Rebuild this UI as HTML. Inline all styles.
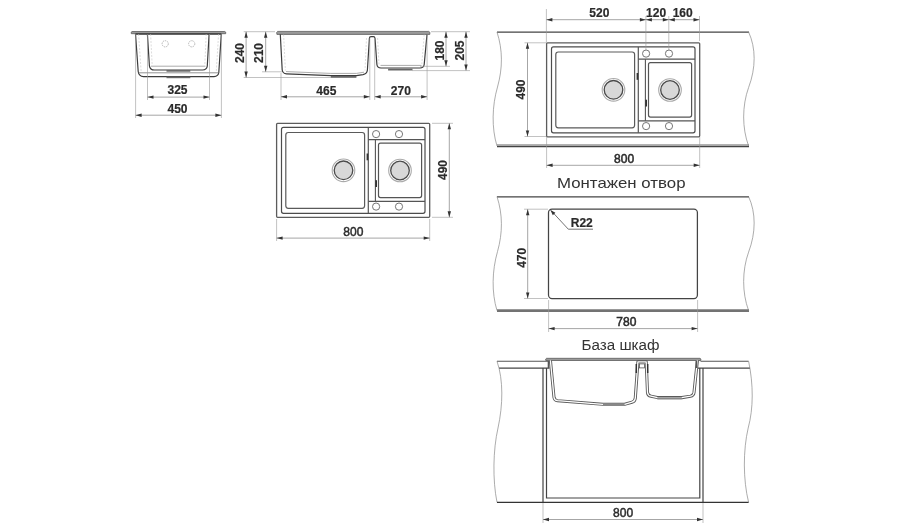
<!DOCTYPE html><html><head><meta charset="utf-8"><style>html,body{margin:0;padding:0;background:#fff;}svg{display:block;filter:grayscale(1);font-family:"Liberation Sans",sans-serif;}</style></head><body>
<svg width="904" height="529" viewBox="0 0 904 529">
<defs><g id="top">
<rect x="276.6" y="123.3" width="153.1" height="94" rx="1" stroke="#5c5c5c" stroke-width="1.3" fill="none"/>
<path d="M283.5,127.4 H423 Q425,127.4 425,129.4 V211.3 Q425,213.3 423,213.3 H283.5 Q281.5,213.3 281.5,211.3 V129.4 Q281.5,127.4 283.5,127.4 Z" stroke="#4c4c4c" stroke-width="1.2" fill="none"/>
<rect x="285.8" y="132.5" width="78.8" height="75.8" rx="2.5" stroke="#5a5a5a" stroke-width="1.2" fill="none"/>
<line x1="368.3" y1="127.4" x2="368.3" y2="213.3" stroke="#555" stroke-width="1.2"/>
<line x1="368.3" y1="139.7" x2="425" y2="139.7" stroke="#555" stroke-width="1.2"/>
<line x1="368.3" y1="201.3" x2="425" y2="201.3" stroke="#555" stroke-width="1.2"/>
<line x1="375.4" y1="139.7" x2="375.4" y2="201.3" stroke="#555" stroke-width="1.1"/>
<rect x="378.5" y="143.1" width="43.1" height="54.5" rx="2" stroke="#555" stroke-width="1.2" fill="none"/>
<circle cx="376.1" cy="134.1" r="3.6" stroke="#666" stroke-width="0.9" fill="none"/>
<circle cx="399" cy="134.1" r="3.6" stroke="#666" stroke-width="0.9" fill="none"/>
<circle cx="376.1" cy="206.6" r="3.6" stroke="#666" stroke-width="0.9" fill="none"/>
<circle cx="399" cy="206.6" r="3.6" stroke="#666" stroke-width="0.9" fill="none"/>
<circle cx="343.5" cy="170.3" r="11.3" stroke="#aaa" stroke-width="1.1" fill="none"/>
<circle cx="343.5" cy="170.3" r="9.3" stroke="#4a4a4a" stroke-width="1.3" fill="#d8d8d8"/>
<circle cx="400" cy="170.5" r="11.3" stroke="#aaa" stroke-width="1.1" fill="none"/>
<circle cx="400" cy="170.5" r="9.3" stroke="#4a4a4a" stroke-width="1.3" fill="#d8d8d8"/>
<rect x="366.6" y="153.5" width="1.6" height="6.8" fill="#333"/>
<rect x="375.3" y="180.2" width="1.7" height="6.8" fill="#333"/>
</g></defs>
<use href="#top"/>
<use href="#top" transform="translate(270,-80.5)"/>
<path d="M132,31.5 H224.8 Q226.2,31.7 225.7,33.7 H131.3 Q130.7,31.8 132,31.5 Z" fill="#9a9a9a" stroke="#555" stroke-width="0.75"/>
<path d="M135.5,34 H221.3" stroke="#3a3a3a" stroke-width="1.3"/>
<path d="M138.6,34 L141.2,72.5 M218.6,34 L216.2,72.5 M150.6,34 L152.2,65.5 M206.2,34 L204.8,65.5" stroke="#c4c4c4" stroke-width="0.6" stroke-dasharray="2,1.5" fill="none"/>
<path d="M135.5,34 L138.2,71.5 Q138.8,76.4 143.5,76.6 H214 Q218.3,76.4 218.8,72.5 L221.3,34" stroke="#3c3c3c" stroke-width="1.2" fill="none"/>
<path d="M138.6,72.8 H218.8" stroke="#777" stroke-width="0.8" fill="none"/>
<path d="M166.5,77.4 H190.3" stroke="#666" stroke-width="1.6"/>
<path d="M147.4,34 L149.4,65.8 Q150,69.9 154.5,70 H202.5 Q206.8,69.8 207.3,66 L209.1,34" stroke="#3c3c3c" stroke-width="1.2" fill="none"/>
<path d="M151,66.2 H205.5" stroke="#888" stroke-width="0.7" fill="none"/>
<path d="M166.5,70.9 H190.3" stroke="#666" stroke-width="1.6"/>
<circle cx="165.2" cy="43.8" r="3.1" stroke="#999" stroke-width="0.7" stroke-dasharray="1.5,0.8" fill="none"/>
<circle cx="191.7" cy="43.8" r="3.1" stroke="#999" stroke-width="0.7" stroke-dasharray="1.5,0.8" fill="none"/>
<line x1="135.6" y1="34" x2="135.6" y2="118" stroke="#999" stroke-width="0.6"/>
<line x1="147.5" y1="34" x2="147.5" y2="100" stroke="#999" stroke-width="0.6"/>
<line x1="209.5" y1="34" x2="209.5" y2="100" stroke="#999" stroke-width="0.6"/>
<line x1="221.4" y1="34" x2="221.4" y2="118" stroke="#999" stroke-width="0.6"/>
<line x1="147.5" y1="97.1" x2="209.5" y2="97.1" stroke="#888" stroke-width="0.75"/>
<polygon points="147.50,97.10 153.50,95.40 153.50,98.80" fill="#333"/>
<polygon points="209.50,97.10 203.50,95.40 203.50,98.80" fill="#333"/>
<line x1="135.6" y1="115.2" x2="221.4" y2="115.2" stroke="#888" stroke-width="0.75"/>
<polygon points="135.60,115.20 141.60,113.50 141.60,116.90" fill="#333"/>
<polygon points="221.40,115.20 215.40,113.50 215.40,116.90" fill="#333"/>
<text x="177.5" y="93.9" font-size="12" font-weight="bold" fill="#2a2a2a" text-anchor="middle" stroke="#2a2a2a" stroke-width="0.2">325</text>
<text x="177.5" y="112.7" font-size="12" font-weight="bold" fill="#2a2a2a" text-anchor="middle" stroke="#2a2a2a" stroke-width="0.2">450</text>
<path d="M277.6,31.4 H428.8 Q430.5,31.7 429.8,34.4 H276.9 Q276.1,31.9 277.6,31.4 Z" fill="#9a9a9a" stroke="#555" stroke-width="0.75"/>
<path d="M283.6,34.5 L285.4,70.5 M366.5,38 L365,70.5 M377.6,38 L379,64.5 M424.2,34.5 L421.8,64" stroke="#c4c4c4" stroke-width="0.6" stroke-dasharray="2,1.5" fill="none"/>
<path d="M280.3,34.4 L282.2,70 Q282.7,73.6 286.5,73.8 L330.8,75.6 H356.4 L363,74.6 Q367,73.8 367.4,70 L369.4,38.2 Q369.5,36.7 371,36.7 H373.4 Q374.9,36.7 375,38.2 L376.9,64.5 Q377.3,67.8 381,68 H420 Q423.7,67.8 424.2,64.5 L427,34.4" stroke="#3c3c3c" stroke-width="1.2" fill="none"/>
<path d="M286,71.6 L330.8,73.4 H356.4 L364,72.2 M380.5,65.4 H421.5" stroke="#888" stroke-width="0.7" fill="none"/>
<path d="M330.8,76.9 H356.4" stroke="#666" stroke-width="1.8"/>
<path d="M388.1,69.6 H412.5" stroke="#666" stroke-width="1.8"/>
<line x1="243.7" y1="31.7" x2="275" y2="31.7" stroke="#999" stroke-width="0.6"/>
<line x1="243.7" y1="77.5" x2="331" y2="77.5" stroke="#999" stroke-width="0.6"/>
<line x1="262" y1="71.8" x2="282" y2="71.8" stroke="#999" stroke-width="0.6"/>
<line x1="281" y1="73" x2="281" y2="100" stroke="#999" stroke-width="0.6"/>
<line x1="369.8" y1="38" x2="369.8" y2="100" stroke="#999" stroke-width="0.6"/>
<line x1="374.7" y1="38" x2="374.7" y2="100" stroke="#999" stroke-width="0.6"/>
<line x1="427.1" y1="34" x2="427.1" y2="100" stroke="#999" stroke-width="0.6"/>
<line x1="431" y1="31.7" x2="470" y2="31.7" stroke="#999" stroke-width="0.6"/>
<line x1="420" y1="66.3" x2="450" y2="66.3" stroke="#999" stroke-width="0.6"/>
<line x1="412" y1="70.6" x2="470" y2="70.6" stroke="#999" stroke-width="0.6"/>
<line x1="246.1" y1="31.7" x2="246.1" y2="77.5" stroke="#888" stroke-width="0.75"/>
<polygon points="246.10,31.70 244.40,37.70 247.80,37.70" fill="#333"/>
<polygon points="246.10,77.50 244.40,71.50 247.80,71.50" fill="#333"/>
<line x1="265.7" y1="31.7" x2="265.7" y2="71.8" stroke="#888" stroke-width="0.75"/>
<polygon points="265.70,31.70 264.00,37.70 267.40,37.70" fill="#333"/>
<polygon points="265.70,71.80 264.00,65.80 267.40,65.80" fill="#333"/>
<line x1="446" y1="31.7" x2="446" y2="66.3" stroke="#888" stroke-width="0.75"/>
<polygon points="446.00,31.70 444.30,37.70 447.70,37.70" fill="#333"/>
<polygon points="446.00,66.30 444.30,60.30 447.70,60.30" fill="#333"/>
<line x1="466" y1="31.7" x2="466" y2="70.6" stroke="#888" stroke-width="0.75"/>
<polygon points="466.00,31.70 464.30,37.70 467.70,37.70" fill="#333"/>
<polygon points="466.00,70.60 464.30,64.60 467.70,64.60" fill="#333"/>
<line x1="281" y1="96.8" x2="369.8" y2="96.8" stroke="#888" stroke-width="0.75"/>
<polygon points="281.00,96.80 287.00,95.10 287.00,98.50" fill="#333"/>
<polygon points="369.80,96.80 363.80,95.10 363.80,98.50" fill="#333"/>
<line x1="374.7" y1="96.8" x2="427.1" y2="96.8" stroke="#888" stroke-width="0.75"/>
<polygon points="374.70,96.80 380.70,95.10 380.70,98.50" fill="#333"/>
<polygon points="427.10,96.80 421.10,95.10 421.10,98.50" fill="#333"/>
<text x="0" y="0" transform="translate(243.7,53) rotate(-90)" font-size="12" font-weight="bold" fill="#2a2a2a" stroke="#2a2a2a" stroke-width="0.2" text-anchor="middle">240</text>
<text x="0" y="0" transform="translate(263,53) rotate(-90)" font-size="12" font-weight="bold" fill="#2a2a2a" stroke="#2a2a2a" stroke-width="0.2" text-anchor="middle">210</text>
<text x="0" y="0" transform="translate(443.5,50.5) rotate(-90)" font-size="12" font-weight="bold" fill="#2a2a2a" stroke="#2a2a2a" stroke-width="0.2" text-anchor="middle">180</text>
<text x="0" y="0" transform="translate(464.2,50.5) rotate(-90)" font-size="12" font-weight="bold" fill="#2a2a2a" stroke="#2a2a2a" stroke-width="0.2" text-anchor="middle">205</text>
<text x="326.3" y="94.7" font-size="12" font-weight="bold" fill="#2a2a2a" text-anchor="middle" stroke="#2a2a2a" stroke-width="0.2">465</text>
<text x="400.8" y="94.7" font-size="12" font-weight="bold" fill="#2a2a2a" text-anchor="middle" stroke="#2a2a2a" stroke-width="0.2">270</text>
<line x1="432" y1="123.3" x2="453" y2="123.3" stroke="#999" stroke-width="0.6"/>
<line x1="432" y1="217.3" x2="453" y2="217.3" stroke="#999" stroke-width="0.6"/>
<line x1="449.3" y1="123.3" x2="449.3" y2="217.3" stroke="#888" stroke-width="0.75"/>
<polygon points="449.30,123.30 447.60,129.30 451.00,129.30" fill="#333"/>
<polygon points="449.30,217.30 447.60,211.30 451.00,211.30" fill="#333"/>
<text x="0" y="0" transform="translate(447.2,170) rotate(-90)" font-size="12" font-weight="bold" fill="#2a2a2a" stroke="#2a2a2a" stroke-width="0.2" text-anchor="middle">490</text>
<line x1="276.6" y1="219" x2="276.6" y2="241" stroke="#999" stroke-width="0.6"/>
<line x1="429.7" y1="219" x2="429.7" y2="241" stroke="#999" stroke-width="0.6"/>
<line x1="276.6" y1="238.1" x2="429.7" y2="238.1" stroke="#888" stroke-width="0.75"/>
<polygon points="276.60,238.10 282.60,236.40 282.60,239.80" fill="#333"/>
<polygon points="429.70,238.10 423.70,236.40 423.70,239.80" fill="#333"/>
<text x="353.3" y="236.3" font-size="12" font-weight="normal" fill="#2a2a2a" text-anchor="middle" stroke="#2a2a2a" stroke-width="0.45">800</text>
<g transform="translate(0,0)">
<line x1="497" y1="32.2" x2="749" y2="32.2" stroke="#444" stroke-width="1.3"/>
<line x1="497" y1="144.9" x2="749" y2="144.9" stroke="#999" stroke-width="1.1"/>
<line x1="497" y1="146.4" x2="749" y2="146.4" stroke="#444" stroke-width="1.5"/>
<path d="M497,32 C502.8,50 502.8,68 497.5,87 C492,106 491.5,128 497,146" stroke="#888" stroke-width="0.7" fill="none"/>
<path d="M748.6,32 C756,48 756,68 748.6,87.5 C742,106 742,128 748.6,146" stroke="#888" stroke-width="0.7" fill="none"/>
</g>
<g transform="translate(0,164.6)">
<line x1="497" y1="32.2" x2="749" y2="32.2" stroke="#444" stroke-width="1.3"/>
<line x1="497" y1="144.9" x2="749" y2="144.9" stroke="#999" stroke-width="1.1"/>
<line x1="497" y1="146.4" x2="749" y2="146.4" stroke="#444" stroke-width="1.5"/>
<path d="M497,32 C502.8,50 502.8,68 497.5,87 C492,106 491.5,128 497,146" stroke="#888" stroke-width="0.7" fill="none"/>
<path d="M748.6,32 C756,48 756,68 748.6,87.5 C742,106 742,128 748.6,146" stroke="#888" stroke-width="0.7" fill="none"/>
</g>
<line x1="546.4" y1="9" x2="546.4" y2="42.8" stroke="#999" stroke-width="0.6"/>
<line x1="645.9" y1="16" x2="645.9" y2="50" stroke="#999" stroke-width="0.6"/>
<line x1="668.8" y1="16" x2="668.8" y2="50" stroke="#999" stroke-width="0.6"/>
<line x1="699.5" y1="16" x2="699.5" y2="41" stroke="#999" stroke-width="0.6"/>
<line x1="546.4" y1="19.7" x2="699.5" y2="19.7" stroke="#888" stroke-width="0.75"/>
<polygon points="546.40,19.70 552.40,18.00 552.40,21.40" fill="#333"/>
<polygon points="645.90,19.70 639.90,18.00 639.90,21.40" fill="#333"/>
<polygon points="645.90,19.70 651.90,18.00 651.90,21.40" fill="#333"/>
<polygon points="668.80,19.70 662.80,18.00 662.80,21.40" fill="#333"/>
<polygon points="668.80,19.70 674.80,18.00 674.80,21.40" fill="#333"/>
<polygon points="699.50,19.70 693.50,18.00 693.50,21.40" fill="#333"/>
<text x="599.3" y="16.8" font-size="12" font-weight="bold" fill="#2a2a2a" text-anchor="middle" stroke="#2a2a2a" stroke-width="0.2">520</text>
<text x="656.1" y="17" font-size="12" font-weight="bold" fill="#2a2a2a" text-anchor="middle" stroke="#2a2a2a" stroke-width="0.2">120</text>
<text x="682.7" y="17" font-size="12" font-weight="bold" fill="#2a2a2a" text-anchor="middle" stroke="#2a2a2a" stroke-width="0.2">160</text>
<line x1="524.5" y1="42.8" x2="546" y2="42.8" stroke="#999" stroke-width="0.6"/>
<line x1="524.5" y1="136.5" x2="546" y2="136.5" stroke="#999" stroke-width="0.6"/>
<line x1="527.5" y1="42.8" x2="527.5" y2="136.5" stroke="#888" stroke-width="0.75"/>
<polygon points="527.50,42.80 525.80,48.80 529.20,48.80" fill="#333"/>
<polygon points="527.50,136.50 525.80,130.50 529.20,130.50" fill="#333"/>
<text x="0" y="0" transform="translate(525.4,89.5) rotate(-90)" font-size="12" font-weight="bold" fill="#2a2a2a" stroke="#2a2a2a" stroke-width="0.2" text-anchor="middle">490</text>
<line x1="546.6" y1="137" x2="546.6" y2="168" stroke="#999" stroke-width="0.6"/>
<line x1="699.7" y1="137" x2="699.7" y2="168" stroke="#999" stroke-width="0.6"/>
<line x1="546.6" y1="165.3" x2="699.7" y2="165.3" stroke="#888" stroke-width="0.75"/>
<polygon points="546.60,165.30 552.60,163.60 552.60,167.00" fill="#333"/>
<polygon points="699.70,165.30 693.70,163.60 693.70,167.00" fill="#333"/>
<text x="624.1" y="162.9" font-size="12" font-weight="normal" fill="#2a2a2a" text-anchor="middle" stroke="#2a2a2a" stroke-width="0.5">800</text>
<text x="557" y="187.9" font-size="14.3" font-weight="normal" fill="#333" text-anchor="start" textLength="128.5" lengthAdjust="spacingAndGlyphs" xml:space="preserve">Монтажен отвор</text>
<rect x="548.5" y="209.2" width="148.9" height="89.4" rx="3.5" stroke="#444" stroke-width="1.25" fill="none"/>
<line x1="524" y1="209.2" x2="548" y2="209.2" stroke="#999" stroke-width="0.6"/>
<line x1="524" y1="298.5" x2="548" y2="298.5" stroke="#999" stroke-width="0.6"/>
<line x1="527.7" y1="209.2" x2="527.7" y2="298.5" stroke="#888" stroke-width="0.75"/>
<polygon points="527.70,209.20 526.00,215.20 529.40,215.20" fill="#333"/>
<polygon points="527.70,298.50 526.00,292.50 529.40,292.50" fill="#333"/>
<text x="0" y="0" transform="translate(525.6,257.8) rotate(-90)" font-size="12" font-weight="bold" fill="#2a2a2a" stroke="#2a2a2a" stroke-width="0.2" text-anchor="middle">470</text>
<line x1="548.6" y1="300" x2="548.6" y2="332" stroke="#999" stroke-width="0.6"/>
<line x1="697.6" y1="300" x2="697.6" y2="332" stroke="#999" stroke-width="0.6"/>
<line x1="548.6" y1="328.6" x2="697.6" y2="328.6" stroke="#888" stroke-width="0.75"/>
<polygon points="548.60,328.60 554.60,326.90 554.60,330.30" fill="#333"/>
<polygon points="697.60,328.60 691.60,326.90 691.60,330.30" fill="#333"/>
<text x="626.3" y="325.7" font-size="12" font-weight="normal" fill="#2a2a2a" text-anchor="middle" stroke="#2a2a2a" stroke-width="0.5">780</text>
<path d="M551,210.5 L568.3,229.2 H593" stroke="#444" stroke-width="0.75" fill="none"/>
<polygon points="550.4,209.9 555.4,212.7 552.8,215.2" fill="#333"/>
<text x="581.8" y="226.5" font-size="12" font-weight="bold" fill="#2a2a2a" text-anchor="middle" stroke="#2a2a2a" stroke-width="0.2">R22</text>
<text x="581.5" y="349.6" font-size="13.8" font-weight="normal" fill="#333" text-anchor="start" textLength="78" lengthAdjust="spacingAndGlyphs" xml:space="preserve">База шкаф</text>
<line x1="497" y1="361.2" x2="548" y2="361.2" stroke="#555" stroke-width="1.05"/>
<line x1="499" y1="368.1" x2="549.5" y2="368.1" stroke="#444" stroke-width="1.05"/>
<line x1="700.5" y1="361.2" x2="748.6" y2="361.2" stroke="#555" stroke-width="1.05"/>
<line x1="697" y1="368.1" x2="750" y2="368.1" stroke="#444" stroke-width="1.05"/>
<path d="M497,361.2 C503.5,380 503,405 498,428 C493,450 492.5,480 497,502.3" stroke="#888" stroke-width="0.7" fill="none"/>
<path d="M748.6,361.2 C753.5,385 753.5,408 748.2,428 C743,450 743,480 748.6,502.3" stroke="#888" stroke-width="0.7" fill="none"/>
<line x1="497" y1="502.3" x2="748.6" y2="502.3" stroke="#333" stroke-width="1.3"/>
<path d="M543,368 V502.3 M703,368 V502.3" stroke="#444" stroke-width="1.2" fill="none"/>
<path d="M546.5,368 V498 H699.8 V368" stroke="#444" stroke-width="1.2" fill="none"/>
<path d="M546.6,358.3 H700 Q701.4,358.6 700.8,360.5 H545.8 Q545.2,358.6 546.6,358.3 Z" fill="#9a9a9a" stroke="#555" stroke-width="0.75"/>
<path d="M550.4,360.4 L554,397.3 Q554.4,400.3 557.5,400.7 L603,404.3 H624.6 L632,402.2 Q635,401.5 635.3,398 L637.9,361.8 H646.2 L647.5,392.5 Q647.8,395.6 651,396.2 L657.4,397.6 H681.8 L690.5,396.2 Q693.6,395.6 694,392.5 L697.4,360.4" stroke="#5a5a5a" stroke-width="3.1" fill="none" stroke-linejoin="round"/>
<path d="M550.4,360.4 L554,397.3 Q554.4,400.3 557.5,400.7 L603,404.3 H624.6 L632,402.2 Q635,401.5 635.3,398 L637.9,361.8 H646.2 L647.5,392.5 Q647.8,395.6 651,396.2 L657.4,397.6 H681.8 L690.5,396.2 Q693.6,395.6 694,392.5 L697.4,360.4" stroke="#fff" stroke-width="1.3" fill="none" stroke-linejoin="round"/>
<rect x="639.4" y="363.9" width="5" height="4" fill="#fff" stroke="#555" stroke-width="0.8"/>
<path d="M636.3,364 V373 M647.7,364 V373" stroke="#333" stroke-width="1.5"/>
<path d="M603,404.9 H624.6 M657.4,398.3 H681.8" stroke="#888" stroke-width="2"/>
<path d="M696.5,361 V368 M548.5,361 V368" stroke="#555" stroke-width="1.6"/>
<line x1="543" y1="503" x2="543" y2="523" stroke="#999" stroke-width="0.6"/>
<line x1="703" y1="503" x2="703" y2="523" stroke="#999" stroke-width="0.6"/>
<line x1="543" y1="519.5" x2="703" y2="519.5" stroke="#888" stroke-width="0.75"/>
<polygon points="543.00,519.50 549.00,517.80 549.00,521.20" fill="#333"/>
<polygon points="703.00,519.50 697.00,517.80 697.00,521.20" fill="#333"/>
<text x="623.1" y="516.9" font-size="12" font-weight="normal" fill="#2a2a2a" text-anchor="middle" stroke="#2a2a2a" stroke-width="0.45">800</text>
</svg></body></html>
